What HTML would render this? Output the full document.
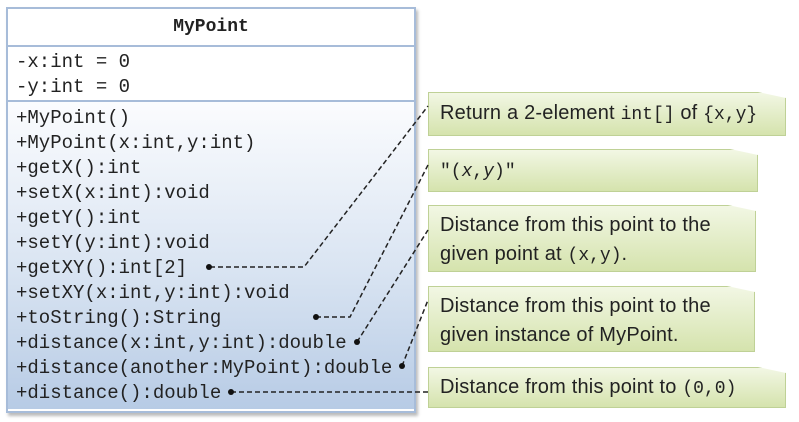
<!DOCTYPE html>
<html><head><meta charset="utf-8"><style>
body{margin:0;width:799px;height:422px;background:#fff;position:relative;overflow:hidden;font-family:"Liberation Mono",monospace}
.cls{position:absolute;left:6px;top:7px;width:406px;height:402px;border:2px solid #a7bcd9;box-shadow:2px 3px 3px #bbb;background:#fff}
.title{height:36px;border-bottom:2px solid #a7bcd9;text-align:center;font-weight:bold;font-size:18px;line-height:36px;color:#222}
.attr{height:55px;border-bottom:2px solid #a7bcd9;padding-left:8px;font-size:19px;line-height:25px;padding-top:3px;box-sizing:border-box;color:#222}
.meth{height:307px;background:linear-gradient(#fbfcfe,#d9e4f2 55%,#b7cbe5);padding-left:8px;font-size:19px;line-height:25px;padding-top:4px;box-sizing:border-box;color:#222;white-space:pre}
.note{position:absolute;left:428px;background:linear-gradient(#f2f7e4,#d5e3ad);border:1px solid #bfd196;box-shadow:2px 3px 3px #bbb;font-family:"Liberation Sans",sans-serif;font-size:20px;letter-spacing:0.2px;color:#222;padding-left:11px;box-sizing:border-box;line-height:29px;white-space:nowrap;clip-path:polygon(0 0,calc(100% - 28px) 0,100% 6px,100% 100%,0 100%)}
.m{font-family:"Liberation Mono",monospace;font-size:18px;letter-spacing:0}
svg{position:absolute;left:0;top:0}
</style></head><body>
<div class="cls">
<div class="title">MyPoint</div>
<div class="attr">-x:int = 0<br>-y:int = 0</div>
<div class="meth">+MyPoint()
+MyPoint(x:int,y:int)
+getX():int
+setX(x:int):void
+getY():int
+setY(y:int):void
+getXY():int[2]
+setXY(x:int,y:int):void
+toString():String
+distance(x:int,y:int):double
+distance(another:MyPoint):double
+distance():double</div>
</div>
<div class="note" style="top:92px;width:358px;height:44px;padding-top:6px">Return a 2-element <span class="m">int[]</span> of <span class="m">{x,y}</span></div>
<div class="note" style="top:149px;width:330px;height:43px;padding-top:6px"><span class="m">"(<i>x</i>,<i>y</i>)"</span></div>
<div class="note" style="top:205px;width:328px;height:67px;padding-top:5px">Distance from this point to the<br>given point at <span class="m">(x,y)</span>.</div>
<div class="note" style="top:286px;width:327px;height:66px;padding-top:5px">Distance from this point to the<br>given instance of MyPoint.</div>
<div class="note" style="top:367px;width:358px;height:41px;padding-top:5px">Distance from this point to <span class="m">(0,0)</span></div>
<svg width="799" height="422">
<g stroke="#222" stroke-width="1.5" stroke-dasharray="5,3" fill="none">
<path d="M210 267 H304 L428 106"/>
<path d="M316 317 H350 L428 165"/>
<path d="M357 342 L428 230"/>
<path d="M402 366 L428 300"/>
<path d="M231 392 H428"/>
</g>
<g fill="#111"><circle cx="209" cy="267" r="3"/><circle cx="316" cy="317" r="3"/><circle cx="357" cy="342" r="3"/><circle cx="402" cy="366" r="3"/><circle cx="231" cy="392" r="3"/></g>
</svg>
</body></html>
